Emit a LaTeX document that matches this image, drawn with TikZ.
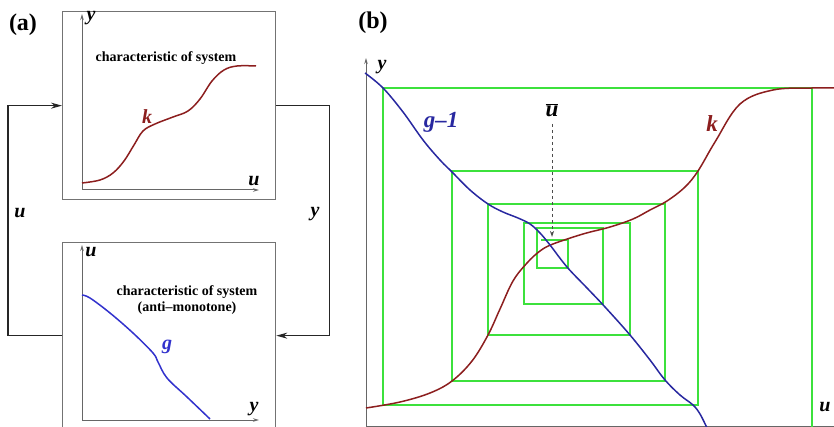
\documentclass[tikz,border=0pt]{standalone}
\usepackage{fontspec}
\setmainfont{Liberation Serif}
\usetikzlibrary{arrows.meta}
\definecolor{kred}{RGB}{140,30,30}
\definecolor{gblue}{RGB}{40,40,160}
\definecolor{gblueA}{RGB}{50,50,205}
\definecolor{cobweb}{RGB}{60,225,60}
\begin{document}
\begin{tikzpicture}[x=1pt,y=-1pt,
  box/.style={draw=black!55, line width=1.3pt, minimum width=213pt, minimum height=188pt, inner sep=0pt, anchor=north west},
  axis/.style={draw=black!60, line width=1pt, -{Stealth[length=6pt,width=3.5pt]}},
  feed/.style={draw=black!85, line width=1.1pt, -{Stealth[length=11pt,width=6pt]}},
  lbl/.style={font=\fontsize{20}{20}\selectfont\bfseries\itshape, inner sep=0pt},
  biglbl/.style={font=\fontsize{23}{23}\selectfont\bfseries\itshape, inner sep=0pt},
  txt/.style={font=\fontsize{14}{16}\selectfont\bfseries, align=center, inner sep=0pt},
  panel/.style={font=\fontsize{24}{24}\selectfont\bfseries, inner sep=0pt},
  curve/.style={line width=1.5pt}
]
\useasboundingbox (0,0) rectangle (834,427);
\fill[white] (0,0) rectangle (834,427);

% ---------- panel (a) ----------
\node[panel] (pa) at (23,25) {(a)};
\node[box] (sysk) at (62,11) {};
\node[box, minimum height=186pt] (sysg) at (62,242) {};

\draw[feed] (sysg.west) -- ++(-54,0) |- (sysk.west);
\draw[feed] (sysk.east) -- ++(53,0) |- (sysg.east);
\node[lbl] (ulab) at (20,213) {u};
\node[lbl] (ylab) at (315,214) {y};

% top plot
\coordinate (oA) at (82,190);
\coordinate (oAy) at (82,14);
\coordinate (oAx) at (259,190);
\draw[axis] (oA) -- (oAy);
\draw[axis] (oA) -- (oAx);
\node[lbl] (yA) at (91,18) {y};
\node[lbl] (uA) at (254,181) {u};
\node[txt] (tA) at (166,58) {characteristic of system};
\draw[kred, curve] plot[smooth, tension=0.6] coordinates {(82,183) (100,180) (113,173) (124,161) (134,145) (143,131) (155,124) (173,117) (188,111) (200,99) (212,81) (224,70) (237,66) (256,66)};
\node[lbl, text=kred] (kA) at (147,117) {k};

% bottom plot
\coordinate (oB) at (82,420);
\coordinate (oBy) at (82,245);
\coordinate (oBx) at (259,420);
\draw[axis] (oB) -- (oBy);
\draw[axis] (oB) -- (oBx);
\node[lbl] (uB) at (91,252) {u};
\node[lbl] (yB) at (254,409) {y};
\node[txt] (tB) at (187,300) {characteristic of system\\(anti–monotone)};
\draw[gblueA, curve] plot[smooth, tension=0.6] coordinates {(82,295) (90,298) (110,313) (133,333) (153,353) (158,362) (167,378) (187,397) (210,419)};
\node[lbl, text=gblueA] (gA) at (167,347) {g};

% ---------- panel (b) ----------
\node[panel] (pb) at (373,23) {(b)};
\coordinate (oC) at (366,426);
\coordinate (oCy) at (366,58);
\coordinate (oCx) at (850,426);
\draw[axis] (oC) -- (oCy);
\draw[draw=black!60, line width=1pt] (oC) -- (oCx);

\draw[cobweb, line width=2pt, line join=miter]
  (812,427) -- (812,88) -- (383,88) -- (383,405) -- (698,405) -- (698,171)
  -- (452,171) -- (452,381) -- (665,381) -- (665,204) -- (488,204) -- (488,335)
  -- (630,335) -- (630,223) -- (524,223) -- (524,304) -- (603,304) -- (603,228)
  -- (537,228) -- (537,268) -- (568,268) -- (568,240) -- (541,240);

\draw[kred, curve] plot[smooth, tension=0.6] coordinates {(366,408) (400,402) (430,393) (452,381) (472,361) (488,335) (500,309) (513,281) (527,263) (540,251) (553,244) (583,234) (610,227) (633,219) (650,210) (667,201) (685,187) (698,171) (715,142) (740,104) (773,90) (812,88) (834,88)};

\draw[gblue, curve] plot[smooth, tension=0.6] coordinates {(365,73) (383,88) (403,112) (423,140) (440,160) (452,172) (470,190) (488,204) (503,212) (518,218) (530,224) (540,233) (550,245) (567,267) (587,288) (605,307) (630,335) (650,360) (665,380) (680,395) (693,405) (700,414) (707,428)};

\node[lbl] (yC) at (382,67) {y};
\node[lbl] (uC) at (825,407) {u};
\node[biglbl, text=gblue] (gC) at (441,122) {g–1};
\node[biglbl, text=kred] (kC) at (712,124) {k};
\node[biglbl, anchor=south] (ubar) at (552,117) {$\overline{\mbox{\bfseries\itshape u}}$};
\coordinate (fix) at (552,237);
\draw[black!70, dashed, line width=1pt, -{Stealth[length=6pt,width=4pt]}] (ubar.south) ++(0,7) -- (fix);
\end{tikzpicture}
\end{document}
